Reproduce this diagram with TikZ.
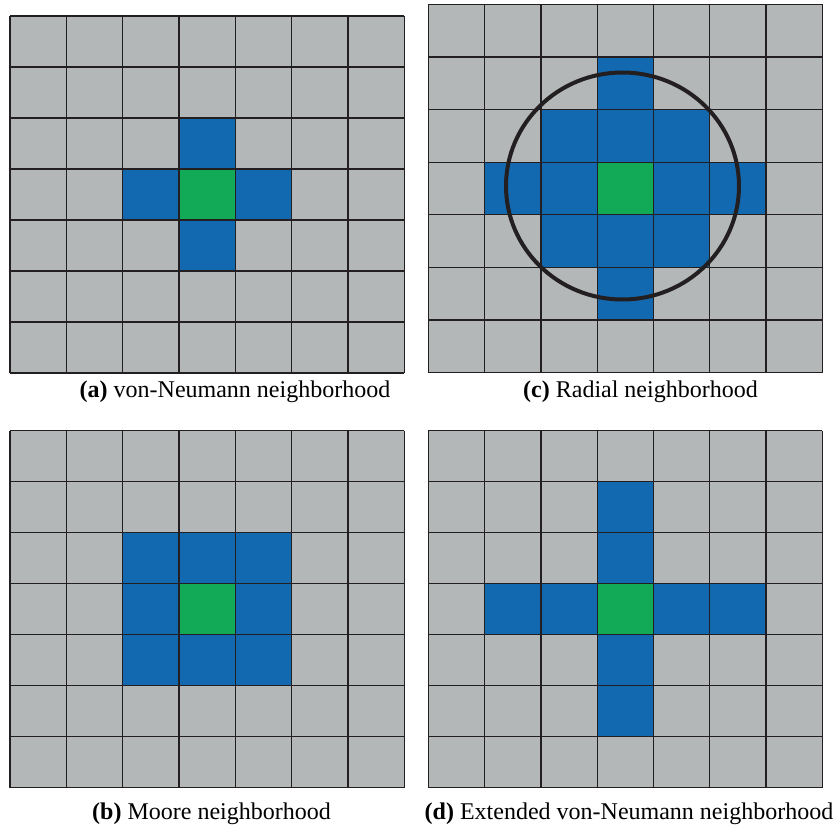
\documentclass[tikz,border=0pt]{standalone}
\usepackage{fontspec}
\setmainfont{Liberation Serif}
\definecolor{cellgray}{HTML}{B4B7B8}
\definecolor{cellblue}{HTML}{1269B0}
\definecolor{cellgreen}{HTML}{12AA56}
\definecolor{inkline}{HTML}{231F20}
\tikzset{
  gridrule/.style={draw=inkline, line width=1.3pt, line cap=square},
  ringline/.style={draw=inkline, line width=4pt},
  captext/.style={anchor=base, inner sep=0pt, font=\fontsize{24}{28}\selectfont}
}
% one 7x7 lattice: corners (#1,#2)-(#3,#4), #5 = blue cells as col/row
\newcommand{\nbpanel}[5]{%
  \pgfmathsetmacro\cw{(#3-#1)/7}%
  \pgfmathsetmacro\ch{(#4-#2)/7}%
  \fill[cellgray] (#1,#2) rectangle (#3,#4);
  \foreach \c/\r in {#5}
    \fill[cellblue] ({#1+\c*\cw},{#2+\r*\ch}) rectangle ({#1+(\c+1)*\cw},{#2+(\r+1)*\ch});
  \fill[cellgreen] ({#1+3*\cw},{#2+3*\ch}) rectangle ({#1+4*\cw},{#2+4*\ch});
  \foreach \i in {0,...,7}{
    \draw[gridrule] ({#1+\i*\cw},#2) -- ({#1+\i*\cw},#4);
    \draw[gridrule] (#1,{#2+\i*\ch}) -- (#3,{#2+\i*\ch});
  }
}
\begin{document}
\begin{tikzpicture}[x=1pt,y=-1pt]
\useasboundingbox (0,0) rectangle (839,827);
\fill[white] (0,0) rectangle (839,827);

% (a) von Neumann
\nbpanel{10}{16}{404.3}{373}{3/2,2/3,4/3,3/4}
% (c) radial
\nbpanel{428.3}{4.3}{822.3}{372.7}{3/1,2/2,3/2,4/2,1/3,2/3,4/3,5/3,2/4,3/4,4/4,3/5}
\draw[ringline] (622.5,186) ellipse [x radius=116.5, y radius=113.5];
% (b) Moore
\nbpanel{10}{430.7}{404.3}{787.7}{2/2,3/2,4/2,2/3,4/3,2/4,3/4,4/4}
% (d) extended von Neumann
\nbpanel{428.3}{430.7}{822.3}{787.5}{3/1,3/2,3/4,3/5,1/3,2/3,4/3,5/3}

\node[captext] (capA) at (235,397) {\textbf{(a)} von-Neumann neighborhood};
\node[captext] (capC) at (640.5,397) {\textbf{(c)} Radial neighborhood};
\node[captext] (capB) at (211.5,819) {\textbf{(b)} Moore neighborhood};
\node[captext] (capD) at (629,819) {\textbf{(d)} Extended von-Neumann neighborhood};
\end{tikzpicture}
\end{document}
